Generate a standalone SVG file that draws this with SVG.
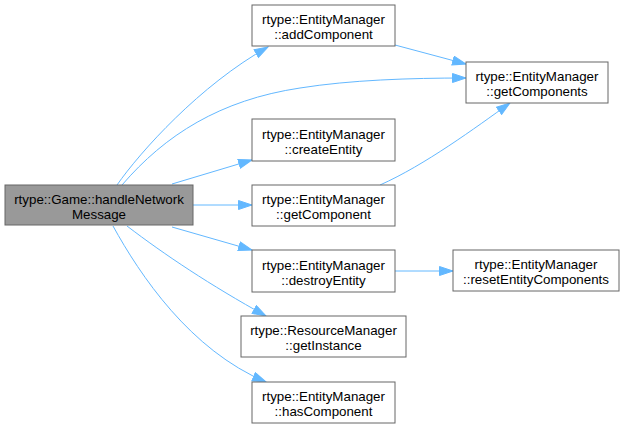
<svg xmlns="http://www.w3.org/2000/svg" width="626" height="427" viewBox="0 0 626 427">
<defs>
<marker id="arr" markerUnits="userSpaceOnUse" markerWidth="15" markerHeight="11" refX="14" refY="5" orient="auto" viewBox="0 0 15 11">
<path d="M0.5,0.5 L14,5 L0.5,9.5 z" fill="#63b8ff" stroke="#63b8ff" stroke-width="1"/>
</marker>
<style>
.n rect{fill:#ffffff;stroke:#666666;stroke-width:1}
.n.main rect{fill:#999999}
.n text{font-family:"Liberation Sans",Arial,sans-serif;font-size:13.33px;fill:#000000;text-anchor:middle}
#edges path{fill:none;stroke:#63b8ff;stroke-width:1;marker-end:url(#arr)}
</style>
</defs>
<rect width="626" height="427" fill="#ffffff"/>
<g id="edges">
<path d="M117,185 C140,152 200,85 268,47"/>
<path d="M122,185 C165,135 220,100 300,88 C350,80 410,78 466,78"/>
<path d="M172,184 L252,160"/>
<path d="M193,205 L252,205"/>
<path d="M172,227 L252,250"/>
<path d="M127,226 C165,255 210,285 266,316"/>
<path d="M113,226 C140,275 190,350 266,382"/>
<path d="M395,45 L466,64"/>
<path d="M380,185 C425,165 475,128 510,103"/>
<path d="M395,271 L453,271"/>
</g>
<g id="node_handleNetworkMessage" class="n main">
<rect x="5" y="185" width="188" height="40"/>
<text x="99" y="204">rtype::Game::handleNetwork</text>
<text x="99" y="219">Message</text>
</g>
<g id="node_addComponent" class="n">
<rect x="252" y="5" width="143" height="41"/>
<text x="323.5" y="24">rtype::EntityManager</text>
<text x="323.5" y="39">::addComponent</text>
</g>
<g id="node_getComponents" class="n">
<rect x="466" y="62" width="142" height="41"/>
<text x="537" y="81">rtype::EntityManager</text>
<text x="537" y="96">::getComponents</text>
</g>
<g id="node_createEntity" class="n">
<rect x="252" y="119" width="143" height="42"/>
<text x="323.5" y="138.5">rtype::EntityManager</text>
<text x="323.5" y="153.5">::createEntity</text>
</g>
<g id="node_getComponent" class="n">
<rect x="252" y="185" width="143" height="41"/>
<text x="323.5" y="204">rtype::EntityManager</text>
<text x="323.5" y="219">::getComponent</text>
</g>
<g id="node_destroyEntity" class="n">
<rect x="252" y="250" width="143" height="42"/>
<text x="323.5" y="269.5">rtype::EntityManager</text>
<text x="323.5" y="284.5">::destroyEntity</text>
</g>
<g id="node_resetEntityComponents" class="n">
<rect x="453" y="250" width="166" height="41"/>
<text x="536" y="269">rtype::EntityManager</text>
<text x="536" y="284">::resetEntityComponents</text>
</g>
<g id="node_getInstance" class="n">
<rect x="241" y="316" width="165" height="41"/>
<text x="323.5" y="335">rtype::ResourceManager</text>
<text x="323.5" y="350">::getInstance</text>
</g>
<g id="node_hasComponent" class="n">
<rect x="252" y="382" width="143" height="41"/>
<text x="323.5" y="401">rtype::EntityManager</text>
<text x="323.5" y="416">::hasComponent</text>
</g>
</svg>
